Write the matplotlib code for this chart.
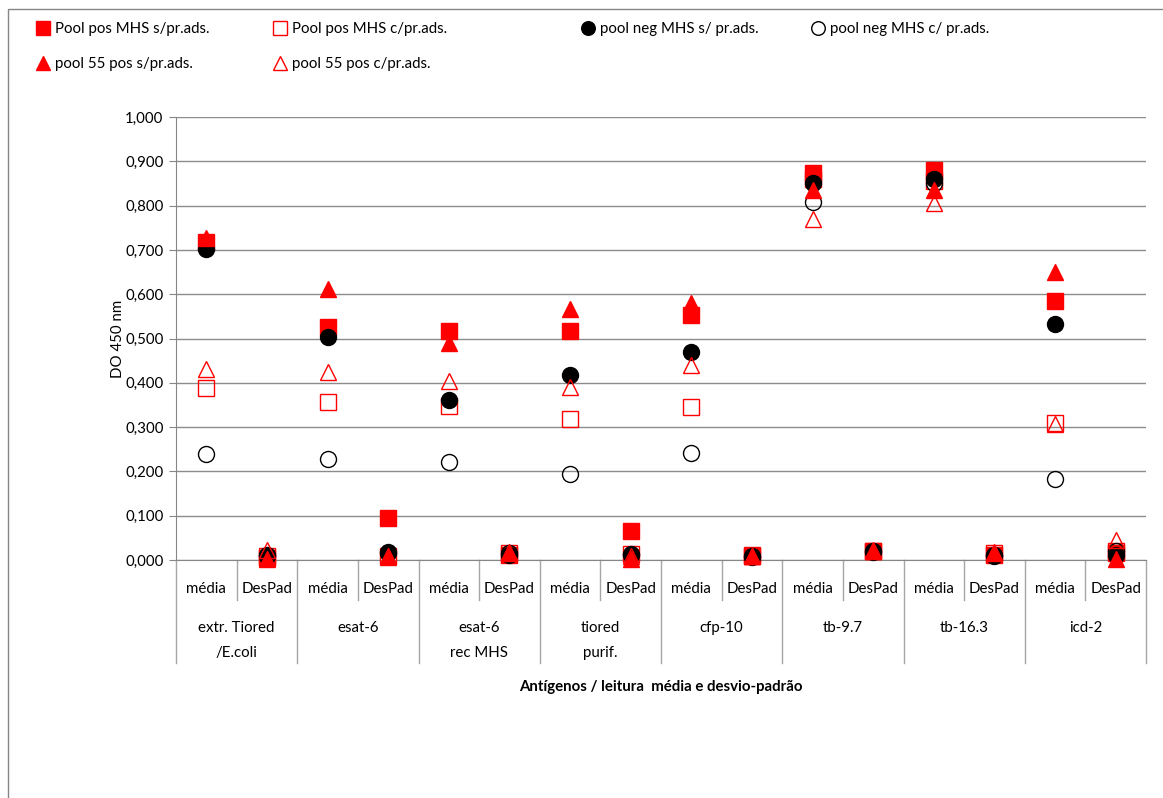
import matplotlib.pyplot as plt
from matplotlib.patches import Rectangle
from matplotlib.ticker import FuncFormatter

plt.rcParams['font.family'] = ['Lato', 'DejaVu Sans']

# dados
antigenos = ['extr. Tiored\n/E.coli', 'esat-6', 'esat-6\nrec MHS', 'tiored\npurif.',
             'cfp-10', 'tb-9.7', 'tb-16.3', 'icd-2']
leituras = ['média', 'DesPad']

# (média, DesPad) para cada antígeno
pos_s = [0.718, 0.005, 0.526, 0.095, 0.517, 0.012, 0.517, 0.066,
         0.553, 0.008, 0.873, 0.020, 0.880, 0.012, 0.585, 0.015]
pos_c = [0.388, 0.010, 0.357, 0.008, 0.348, 0.015, 0.318, 0.013,
         0.345, 0.011, 0.860, 0.020, 0.855, 0.015, 0.309, 0.020]
neg_s = [0.703, 0.008, 0.504, 0.015, 0.361, 0.012, 0.418, 0.012,
         0.470, 0.008, 0.852, 0.018, 0.859, 0.010, 0.533, 0.012]
neg_c = [0.239, 0.012, 0.228, 0.017, 0.222, 0.015, 0.195, 0.014,
         0.242, 0.006, 0.809, 0.020, 0.850, 0.012, 0.183, 0.020]
p55_s = [0.727, 0.002, 0.611, 0.010, 0.490, 0.018, 0.566, 0.002,
         0.580, 0.008, 0.835, 0.020, 0.835, 0.015, 0.649, 0.003]
p55_c = [0.431, 0.022, 0.425, 0.006, 0.405, 0.016, 0.391, 0.010,
         0.440, 0.010, 0.769, 0.022, 0.805, 0.018, 0.307, 0.045]

series = [
    ('Pool pos MHS s/pr.ads.', pos_s, 's', 'red', 'red'),
    ('Pool pos MHS c/pr.ads.', pos_c, 's', 'red', 'none'),
    ('pool neg MHS s/ pr.ads.', neg_s, 'o', 'black', 'black'),
    ('pool neg MHS c/ pr.ads.', neg_c, 'o', 'black', 'none'),
    ('pool 55 pos s/pr.ads.', p55_s, '^', 'red', 'red'),
    ('pool 55 pos c/pr.ads.', p55_c, '^', 'red', 'none'),
]

FS = 10.8
W, H = 1163, 798
fig = plt.figure(figsize=(W / 100, H / 100), dpi=100)
ax = fig.add_axes([176 / W, 1 - 560 / H, (1146 - 176) / W, (560 - 117) / H])

x = list(range(len(pos_s)))
handles = {}
for z, (nome, vals, mk, cor, face) in enumerate(series):
    h, = ax.plot(x, vals, linestyle='none', marker=mk, markersize=11.5,
                 markeredgecolor=cor, markerfacecolor=face,
                 markeredgewidth=1.0, zorder=3 + z, label=nome, clip_on=False)
    handles[nome] = h

ax.set_xlim(-0.5, len(x) - 0.5)
ax.set_ylim(0, 1)
ax.set_yticks([i / 10 for i in range(11)])
ax.yaxis.set_major_formatter(FuncFormatter(lambda v, p: f'{v:.3f}'.replace('.', ',')))
ax.tick_params(axis='y', length=5, color='#868686', labelsize=FS, pad=4)
ax.grid(axis='y', color='#8c8c8c', linewidth=1)
ax.set_axisbelow(True)
for s in ['top', 'right']:
    ax.spines[s].set_visible(False)
for s in ['left', 'bottom']:
    ax.spines[s].set_color('#868686')
ax.set_xticks([])
ax.set_ylabel('DO 450 nm', fontsize=FS, labelpad=0)

# eixo x em dois níveis
trans = ax.get_xaxis_transform()
h_px = 560 - 117
for i in range(len(x)):
    ax.text(i, -29 / h_px, leituras[i % 2], transform=trans, ha='center',
            va='center', fontsize=FS)
for i in range(len(x) + 1):
    y_end = -103 / h_px if i % 2 == 0 else -40 / h_px
    ax.plot([i - 0.5, i - 0.5], [0, y_end], transform=trans, color='#a6a6a6',
            linewidth=1, clip_on=False)
for g, nome in enumerate(antigenos):
    ax.text(2 * g + 0.5, -61 / h_px, nome, transform=trans, ha='center',
            va='top', fontsize=FS, linespacing=2.0)
ax.text(0.5, -127 / h_px, 'Antígenos / leitura  média e desvio-padrão',
        transform=ax.transAxes, ha='center', va='center', fontsize=FS,
        fontweight='bold')

# legenda em quatro colunas
colunas = [
    (43, ['Pool pos MHS s/pr.ads.', 'pool 55 pos s/pr.ads.']),
    (280, ['Pool pos MHS c/pr.ads.', 'pool 55 pos c/pr.ads.']),
    (588, ['pool neg MHS s/ pr.ads.']),
    (818, ['pool neg MHS c/ pr.ads.']),
]
for xc, nomes in colunas:
    fig.legend([handles[n] for n in nomes], nomes, loc='upper left',
               bbox_to_anchor=((xc - 8) / W, 1 - 22 / H), frameon=False,
               fontsize=FS, handlelength=1.0, handletextpad=0.35,
               borderpad=0, borderaxespad=0, labelspacing=1.4, markerscale=0.85)

fig.add_artist(Rectangle((8 / W, -0.02), 1.0, 1 - 9 / H + 0.02,
                         transform=fig.transFigure, fill=False,
                         edgecolor='#868686', linewidth=1))

fig.savefig('out.png', dpi=100)
